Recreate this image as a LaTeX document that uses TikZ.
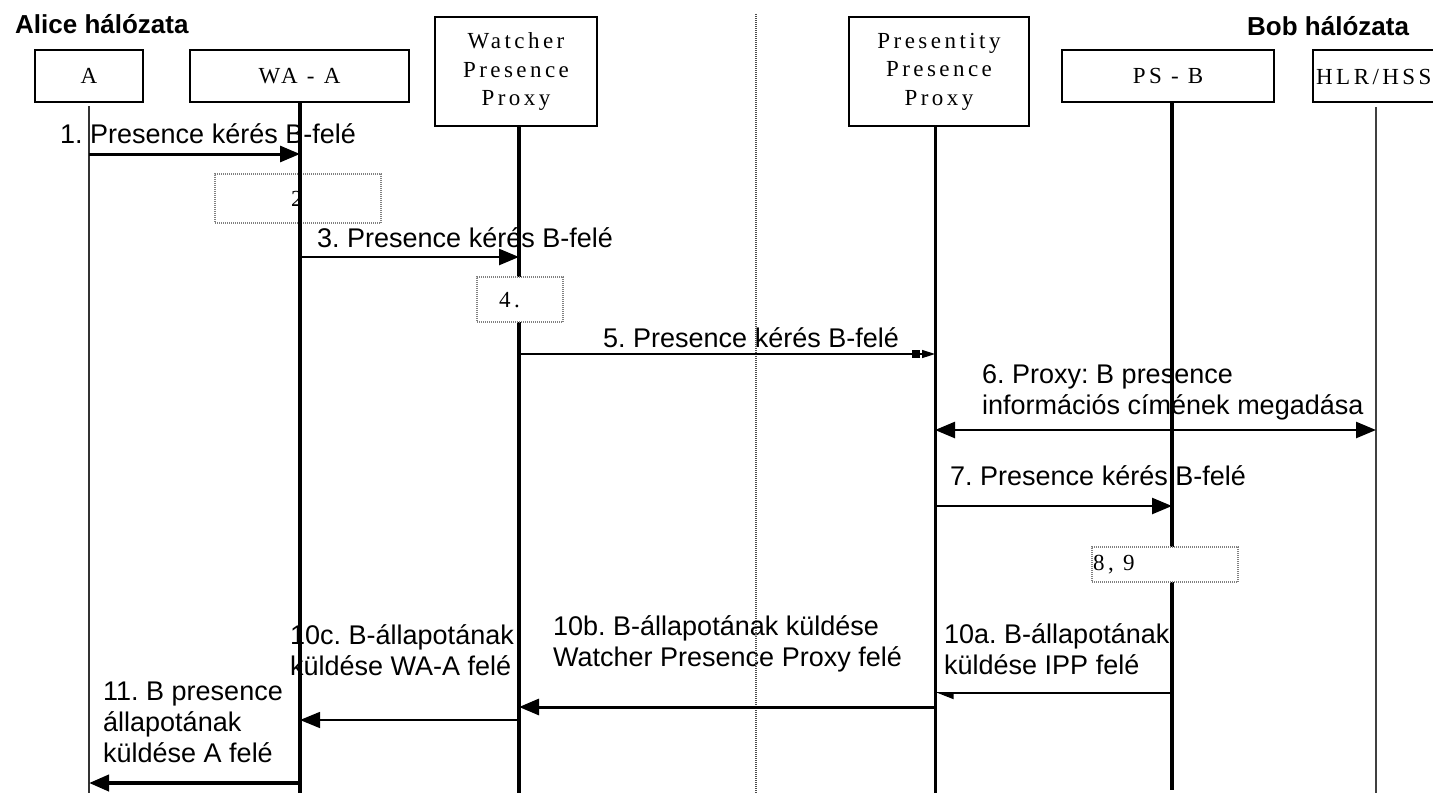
\documentclass[tikz,border=0pt]{standalone}
\usepackage{fontspec}
\setmainfont{Liberation Serif}
\setsansfont{Liberation Sans}
\newfontfamily\boxfont[LetterSpace=15]{Liberation Serif}
\usetikzlibrary{arrows.meta}

\begin{document}
\frenchspacing
\begin{tikzpicture}[x=1pt,y=-1pt,
  lbl/.style={font=\sffamily\fontsize{27}{31}\selectfont, inner sep=0pt, anchor=base west, align=left},
  title/.style={font=\sffamily\bfseries\fontsize{26}{30}\selectfont, inner sep=0pt, anchor=base west},
  actor/.style={draw, line width=2.5pt, fill=white, font=\boxfont\fontsize{23}{28.5}\selectfont, align=center, inner sep=0pt},
  numtext/.style={font=\boxfont\fontsize{23}{26}\selectfont, inner sep=0pt, anchor=west},
  lifeline/.style={line width=4pt},
  stepbox/.style={draw=gray, dash pattern=on 1pt off 1pt, line width=1.5pt},
  msg/.style={line width=2.5pt, -{Triangle[length=20pt,width=16pt]}},
]
\fill[white] (0,0) rectangle (1433,793);
\useasboundingbox (0,0) rectangle (1433,793);

% network titles
\node[title] (alice) at (15,33) {Alice hálózata};
\node[title] (bob) at (1247,35) {Bob hálózata};

% message labels (anchored at the baseline of their last line)
\node[lbl] (t1) at (60,143) {1. Presence kérés B-felé};
\node[lbl] (t3) at (317,247) {3. Presence kérés B-felé};
\node[lbl] (t5) at (603,347) {5. Presence kérés B-felé};
\node[lbl] (t6) at (982,414) {6. Proxy: B presence\\információs címének megadása};
\node[lbl] (t7) at (950,485) {7. Presence kérés B-felé};
\node[lbl] (t10a) at (944,674) {10a. B-állapotának\\küldése IPP felé};
\node[lbl] (t10b) at (553,666) {10b. B-állapotának küldése\\Watcher Presence Proxy felé};
\node[lbl] (t10c) at (290,675) {10c. B-állapotának\\küldése WA-A felé};
\node[lbl] (t11) at (103,762) {11. B presence\\állapotának\\küldése A felé};

% processing step 2 (transparent box, lifeline runs through it)
\node[stepbox, minimum width=166pt, minimum height=49pt] (s2) at (298,198.5) {};
\node[numtext] (s2t) at (291,199) {2};

% lifeline ends
\coordinate (lA) at (89,106);   \coordinate (lAe) at (89,793);
\coordinate (lW) at (300,98);   \coordinate (lWe) at (300,793);
\coordinate (lX) at (519,126);  \coordinate (lXe) at (519,793);
\coordinate (lP) at (935,126);  \coordinate (lPe) at (935,793);
\coordinate (lS) at (1172,102); \coordinate (lSe) at (1172,790);
\coordinate (lH) at (1376,107); \coordinate (lHe) at (1376,793);

% lifelines
\draw[lifeline, line width=2.5pt, black!80] (lA) -- (lAe);
\draw[lifeline] (lW) -- (lWe);
\draw[lifeline, line width=4.5pt] (lX) -- (lXe);
\draw[lifeline, line width=3pt] (lP) -- (lPe);
\draw[lifeline] (lS) -- (lSe);
\draw[lifeline, line width=1.8pt, black!75] (lH) -- (lHe);

% border between the two networks
\coordinate (dtop) at (756,14);
\coordinate (dbot) at (756,793);
\draw[gray!60!black, line width=2pt, dash pattern=on 1pt off 1pt] (dtop) -- (dbot);

% processing steps 4 and 8, 9 (opaque boxes)
\node[stepbox, fill=white, minimum width=86pt, minimum height=45pt] (s4) at (520,299.5) {};
\node[numtext] (s4t) at (499,300) {4.};
\node[stepbox, fill=white, minimum width=146pt, minimum height=35pt] (s89) at (1165,564.5) {};
\node[numtext] (s89t) at (1093,565) {8, 9};

% actors
\node[actor, minimum width=108pt, minimum height=52pt] (A) at (89,76) {A};
\node[actor, minimum width=219pt, minimum height=52pt] (WA) at (299.5,76) {WA - A};
\node[actor, minimum width=162pt, minimum height=109pt] (WPP) at (516,71.5) {Watcher\\Presence\\Proxy};
\node[actor, minimum width=180pt, minimum height=109pt] (PPP) at (939,71.5) {Presentity\\Presence\\Proxy};
\node[actor, minimum width=212pt, minimum height=52pt] (PSB) at (1168,76) {PS - B};
\node[actor, minimum width=127pt, minimum height=52pt] (HLR) at (1376.5,76) {};
\node[numtext] (HLRt) at (1316,77) {HLR/HSS};

% message levels
\coordinate (m1) at (0,154);
\coordinate (m3) at (0,257);
\coordinate (m5) at (0,354);
\coordinate (m6) at (0,430);
\coordinate (m7) at (0,506);
\coordinate (m10a) at (0,693);
\coordinate (m10b) at (0,707);
\coordinate (m10c) at (0,720);
\coordinate (m11) at (0,783);

% messages
\draw[msg, line width=3pt] (lA |- m1) -- (lW |- m1);
\draw[msg] (lW |- m3) -- (lX |- m3);
\draw[line width=1.5pt, -{Square[length=8pt,width=8pt,sep=2pt]Triangle[length=13pt,width=8pt]}] (lX |- m5) -- (lP |- m5);
\draw[msg, {Triangle[length=20pt,width=16pt]}-{Triangle[length=20pt,width=16pt]}] (lP |- m6) -- (lH |- m6);
\draw[msg] (lP |- m7) -- (lS |- m7);
\draw[line width=2pt, -{Triangle[length=16pt,width=12pt,left]}] (lS |- m10a) -- (lP |- m10a);
\draw[msg, line width=3pt] (lP |- m10b) -- (lX |- m10b);
\draw[msg, line width=1.5pt] (lX |- m10c) -- (lW |- m10c);
\draw[msg, line width=4pt] (lW |- m11) -- (lA |- m11);
\end{tikzpicture}
\end{document}
